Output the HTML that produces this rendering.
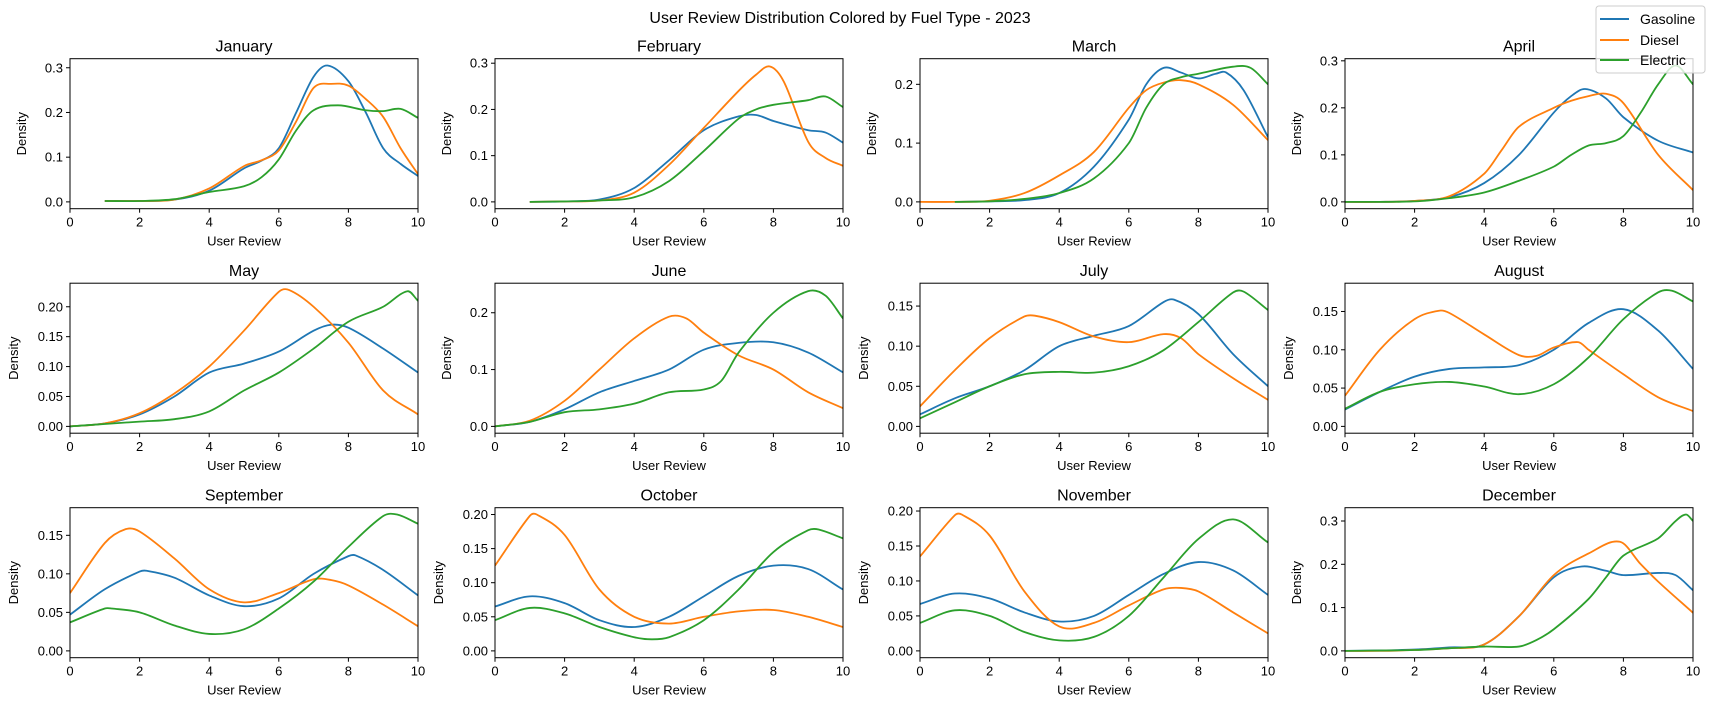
<!DOCTYPE html>
<html><head><meta charset="utf-8">
<style>
html,body{margin:0;padding:0;background:#fff;}
svg{display:block;font-family:"Liberation Sans","DejaVu Sans",sans-serif;}
</style></head>
<body>
<svg id="fig" width="1711" height="711" viewBox="0 0 1711 711">
<text x="840" y="23" text-anchor="middle" font-size="16" fill="#000">User Review Distribution Colored by Fuel Type - 2023</text>
<g id="plots"></g>
<g>
<rect x="1596" y="6" width="109" height="67" rx="3" fill="#fff" fill-opacity="0.8" stroke="#ccc"/>
<line x1="1600" y1="19" x2="1629" y2="19" stroke="#1f77b4" stroke-width="2"/>
<text x="1640" y="24" font-size="14">Gasoline</text>
<line x1="1600" y1="40" x2="1629" y2="40" stroke="#ff7f0e" stroke-width="2"/>
<text x="1640" y="45" font-size="14">Diesel</text>
<line x1="1600" y1="60" x2="1629" y2="60" stroke="#2ca02c" stroke-width="2"/>
<text x="1640" y="65" font-size="14">Electric</text>
</g>
</svg>
<script>
const months = ["January","February","March","April","May","June","July","August","September","October","November","December"];
const seriesNames = ["gasoline","diesel","electric"];
const colors = ["#1f77b4","#ff7f0e","#2ca02c"];
const xTicks = [0,2,4,6,8,10];
const yMax = [0.305,0.295,0.232,0.29,0.228,0.24,0.17,0.178,0.177,0.2,0.195,0.315];
const yTickStep = [0.1,0.1,0.1,0.1,0.05,0.1,0.05,0.05,0.05,0.05,0.05,0.1];
const yTickDec = [1,1,1,1,2,1,2,2,2,2,2,1];
// Each curve: [x, density] pairs
const gasoline = [
 [[1,.002],[2,.002],[3,.005],[4,.025],[5,.075],[5.5,.092],[6,.12],[6.5,.2],[7,.28],[7.4,.305],[8,.27],[8.5,.2],[9,.12],[9.5,.085],[10,.058]],
 [[1,0],[2,.001],[3,.005],[4,.03],[5,.09],[6,.155],[7,.185],[7.5,.188],[8,.175],[9,.155],[9.5,.15],[10,.128]],
 [[1,0],[2,.001],[3,.003],[4,.015],[5,.06],[6,.14],[6.5,.2],[7,.228],[7.5,.22],[8,.21],[8.5,.218],[8.8,.22],[9.3,.19],[10,.11]],
 [[0,0],[1,0],[2,.002],[3,.01],[4,.04],[5,.1],[6,.19],[6.5,.225],[6.9,.24],[7.5,.22],[8,.18],[9,.13],[10,.105]],
 [[0,0],[1,.005],[2,.02],[3,.05],[4,.09],[5,.105],[6,.125],[7,.16],[7.5,.17],[8,.165],[9,.13],[10,.09]],
 [[0,0],[1,.008],[2,.03],[3,.06],[4,.08],[5,.1],[6,.135],[7,.147],[8,.148],[9,.13],[10,.095]],
 [[0,.015],[1,.035],[2,.05],[3,.07],[4,.1],[5,.113],[6,.125],[7,.155],[7.3,.158],[8,.14],[9,.09],[10,.05]],
 [[0,.022],[1,.045],[2,.065],[3,.075],[4,.077],[5,.08],[6,.1],[7,.135],[8,.153],[9,.125],[10,.075]],
 [[0,.047],[1,.08],[2,.103],[2.2,.104],[3,.095],[4,.072],[5,.058],[6,.068],[7,.1],[8,.123],[8.2,.124],[9,.105],[10,.072]],
 [[0,.065],[1,.08],[2,.07],[3,.045],[4,.035],[5,.05],[6,.08],[7,.11],[8,.125],[9,.12],[10,.09]],
 [[0,.067],[1,.082],[2,.075],[3,.055],[4,.042],[5,.05],[6,.08],[7,.11],[8,.127],[9,.115],[10,.08]],
 [[0,0],[1,.001],[2,.003],[3,.008],[4,.015],[5,.08],[6,.17],[6.8,.195],[7.5,.185],[8,.175],[9,.18],[9.5,.175],[10,.14]]
];
const diesel = [
 [[1,.002],[2,.002],[3,.005],[4,.03],[5,.08],[5.5,.093],[6,.115],[6.5,.18],[7,.255],[7.5,.264],[8,.26],[8.5,.23],[9,.19],[9.5,.12],[10,.062]],
 [[1,0],[2,.001],[3,.003],[4,.02],[5,.08],[6,.16],[7,.24],[7.5,.275],[7.9,.293],[8.3,.26],[9,.13],[9.5,.095],[10,.078]],
 [[0,0],[1,0],[2,.002],[3,.015],[4,.045],[5,.085],[6,.16],[6.5,.19],[7,.203],[7.5,.207],[8,.2],[9,.165],[10,.105]],
 [[0,0],[1,0],[2,.002],[3,.012],[4,.06],[4.5,.11],[5,.16],[6,.2],[6.5,.215],[7,.225],[7.5,.23],[8,.21],[9,.1],[10,.025]],
 [[0,0],[1,.005],[2,.022],[3,.055],[4,.1],[5,.16],[6,.225],[6.3,.228],[7,.2],[8,.14],[9,.06],[10,.02]],
 [[0,0],[1,.01],[2,.045],[3,.1],[4,.155],[5,.193],[5.5,.19],[6,.165],[7,.125],[8,.1],[9,.06],[10,.032]],
 [[0,.025],[1,.07],[2,.11],[3,.137],[3.3,.138],[4,.13],[5,.112],[6,.105],[7,.115],[7.5,.11],[8,.09],[9,.06],[10,.033]],
 [[0,.04],[1,.1],[2,.14],[2.7,.151],[3,.148],[4,.12],[5,.093],[5.5,.092],[6,.103],[6.7,.11],[7,.1],[8,.068],[9,.038],[10,.02]],
 [[0,.075],[1,.14],[1.6,.158],[2,.155],[3,.12],[4,.08],[5,.063],[6,.075],[7,.093],[7.5,.092],[8,.085],[9,.06],[10,.032]],
 [[0,.125],[1,.198],[1.2,.2],[2,.17],[3,.09],[4,.05],[5,.04],[6,.05],[7,.058],[8,.06],[9,.05],[10,.035]],
 [[0,.135],[1,.194],[1.2,.195],[2,.165],[3,.085],[4,.035],[5,.04],[6,.065],[7,.088],[7.5,.09],[8,.085],[9,.055],[10,.025]],
 [[0,0],[1,0],[2,.002],[3,.006],[4,.015],[5,.08],[6,.175],[7,.225],[7.9,.252],[8.5,.2],[9,.16],[10,.088]]
];
const electric = [
 [[1,.002],[2,.002],[3,.006],[4,.022],[5,.035],[5.5,.055],[6,.095],[6.5,.16],[7,.205],[7.7,.216],[8.5,.205],[9,.203],[9.5,.208],[10,.188]],
 [[1,0],[2,.001],[3,.003],[4,.01],[5,.045],[6,.11],[7,.18],[7.5,.2],[8,.21],[9,.22],[9.5,.228],[10,.205]],
 [[1,0],[2,.001],[3,.005],[4,.015],[5,.04],[6,.1],[6.5,.16],[7,.2],[7.5,.212],[8,.218],[9,.23],[9.5,.228],[10,.2]],
 [[0,0],[2,.001],[3,.008],[4,.02],[5,.045],[6,.075],[6.5,.1],[7,.12],[7.5,.125],[8,.14],[8.5,.19],[9,.25],[9.5,.29],[10,.25]],
 [[0,0],[1,.004],[2,.008],[3,.012],[4,.025],[5,.06],[6,.09],[7,.13],[8,.175],[9,.2],[9.7,.226],[10,.21]],
 [[0,0],[1,.008],[2,.025],[3,.03],[4,.04],[5,.06],[6,.065],[6.5,.08],[7,.13],[8,.2],[9,.238],[9.5,.23],[10,.19]],
 [[0,.01],[1,.03],[2,.05],[3,.065],[4,.068],[5,.067],[6,.075],[7,.095],[8,.13],[9,.167],[9.3,.168],[10,.145]],
 [[0,.023],[1,.045],[2,.055],[3,.058],[4,.052],[5,.042],[6,.055],[7,.09],[8,.14],[9,.175],[9.4,.177],[10,.163]],
 [[0,.037],[1,.055],[1.2,.055],[2,.05],[3,.033],[4,.022],[5,.028],[6,.055],[7,.09],[8,.135],[9,.175],[9.4,.177],[10,.165]],
 [[0,.045],[1,.063],[2,.055],[3,.035],[4,.02],[4.5,.017],[5,.02],[6,.045],[7,.09],[8,.145],[9,.177],[9.3,.178],[10,.165]],
 [[0,.04],[1,.058],[2,.05],[3,.027],[4,.015],[5,.02],[6,.05],[7,.105],[8,.16],[9,.188],[10,.155]],
 [[0,0],[2,.002],[3,.006],[4,.01],[5,.01],[5.5,.025],[6,.05],[7,.12],[7.5,.17],[8,.22],[9,.26],[9.5,.3],[9.8,.315],[10,.3]]
];

const NS = "http://www.w3.org/2000/svg";
const root = document.getElementById("plots");
const colX = [70, 495, 920, 1345], rowY = [58.7, 283.2, 507.7], W = 348, H = 150;
function mk(tag, attrs, parent){const e=document.createElementNS(NS,tag);for(const k in attrs)e.setAttribute(k,attrs[k]);parent.appendChild(e);return e;}
function pathFrom(pts){
  const n=pts.length, m=[];
  for(let i=0;i<n;i++){
    const a=pts[Math.max(0,i-1)], b=pts[Math.min(n-1,i+1)];
    m.push((b[1]-a[1])/(b[0]-a[0]));
  }
  let d="M"+pts[0][0].toFixed(2)+","+pts[0][1].toFixed(2);
  for(let i=0;i<n-1;i++){
    const p1=pts[i],p2=pts[i+1],h=(p2[0]-p1[0])/3;
    d+=" C"+(p1[0]+h).toFixed(2)+","+(p1[1]+m[i]*h).toFixed(2)+" "+(p2[0]-h).toFixed(2)+","+(p2[1]-m[i+1]*h).toFixed(2)+" "+p2[0].toFixed(2)+","+p2[1].toFixed(2);
  }
  return d;
}
const allSeries=[gasoline,diesel,electric];
months.forEach((m,i)=>{
  const x0=colX[i%4], y0=rowY[Math.floor(i/4)];
  const ymn=-0.05*yMax[i], ymx=1.05*yMax[i];
  const sx=v=>x0+v/10*W;
  const sy=v=>y0+H-(v-ymn)/(ymx-ymn)*H;
  const g=mk("g",{},root);
  
  
  const cp=mk("clipPath",{id:"clip"+i},g);
  mk("rect",{x:x0,y:y0,width:W,height:H},cp);
  const t=mk("text",{x:x0+W/2,y:y0-7,"text-anchor":"middle","font-size":"16"},g);
  t.textContent=m;
  
  
  xTicks.forEach(v=>{
    mk("line",{x1:sx(v),x2:sx(v),y1:y0+H,y2:y0+H+4,stroke:"#000","stroke-width":1},g);
    const tl=mk("text",{x:sx(v),y:y0+H+18,"text-anchor":"middle","font-size":"13"},g);
    tl.textContent=v;
    
    
  });
  const xl=mk("text",{x:x0+W/2,y:y0+H+37,"text-anchor":"middle","font-size":"13"},g);
  xl.textContent="User Review";
  
  
  const st=yTickStep[i];
  for(let k=0;k*st<=ymx+1e-9;k++){
    const v=k*st;
    mk("line",{x1:x0-4,x2:x0,y1:sy(v),y2:sy(v),stroke:"#000","stroke-width":1},g);
    const yl=mk("text",{x:x0-7,y:sy(v)+4.5,"text-anchor":"end","font-size":"13"},g);
    yl.textContent=v.toFixed(yTickDec[i]);
    
    
  }
  const lx=yTickDec[i]===1?x0-44:x0-52;
  const ya=mk("text",{x:lx,y:y0+H/2,"text-anchor":"middle","font-size":"13",transform:"rotate(-90 "+lx+" "+(y0+H/2)+")"},g);
  ya.textContent="Density";
  
  
  allSeries.forEach((s,j)=>{
    const pts=s[i].map(p=>[sx(p[0]),sy(p[1])]);
    const p=mk("path",{d:pathFrom(pts),fill:"none",stroke:colors[j],"stroke-width":"1.8","clip-path":"url(#clip"+i+")"},g);
    
    
  });
  const fr=mk("rect",{x:x0,y:y0,width:W,height:H,fill:"none",stroke:"#000","stroke-width":1},g);
  
  
});
</script>
</body></html>
